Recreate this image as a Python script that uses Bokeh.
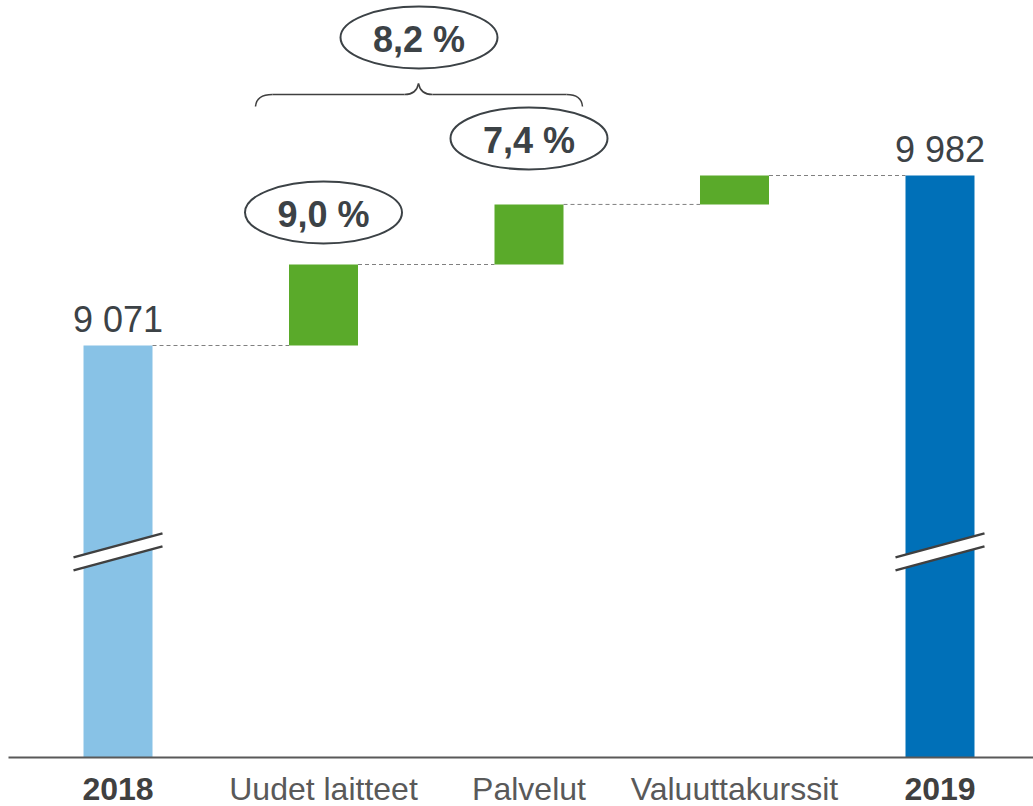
from bokeh.plotting import figure
from bokeh.models import Range1d
from bokeh.embed import file_html
from bokeh.resources import INLINE
from bokeh.core.properties import value

# ---------------- data ----------------
categories = ["2018", "Uudet laitteet", "Palvelut", "Valuuttakurssit", "2019"]
start_total = 9071
end_total = 9982
changes = [434, 322, 155]          # Uudet laitteet, Palvelut, Valuuttakurssit
total_labels = ["9 071", "9 982"]
growth_labels = ["9,0 %", "7,4 %"]  # for Uudet laitteet, Palvelut
combined_label = "8,2 %"
bold_cats = ["2018", "2019"]

# ---------------- layout ----------------
W, H = 1033, 806
X0, X1 = -0.5718, 4.455
Y0, Y1 = 6600.6, 10919.8
BASE = 6863.0          # axis break baseline (bars drawn from here)
KX = (X1 - X0) / W      # data units per px
KY = (Y1 - Y0) / H
BW = 69 * KX            # bar width

FONT = "Liberation Sans"
TXT = "#3C4246"

p = figure(width=W, height=H, x_range=Range1d(X0, X1), y_range=Range1d(Y0, Y1),
           output_backend="svg", toolbar_location=None, min_border=0,
           background_fill_color="white", border_fill_color="white")
p.outline_line_color = None
p.grid.visible = False
p.xaxis.visible = False
p.yaxis.visible = False


def px2x(px):   # screen px -> data x
    return px * KX + X0


def px2y(py):   # screen px -> data y
    return Y1 - py * KY


# totals bars
p.vbar(x=[0, 4], top=[start_total, end_total], bottom=BASE, width=BW,
       color=["#88C2E6", "#0070B8"], line_color=None)

# change bars
cum = [start_total]
for c in changes:
    cum.append(cum[-1] + c)
p.vbar(x=[1, 2, 3], bottom=cum[:-1], top=cum[1:], width=BW,
       color="#5AAA2A", line_color=None)

# dashed connectors
levels = cum
p.segment(x0=[i + BW / 2 for i in range(4)], x1=[i + 1 - BW / 2 for i in range(4)],
          y0=levels, y1=levels, line_color="#808080", line_width=1,
          line_dash="4 3")

# axis break marks
C = 7965.0
ext = BW / 2 + 10 * KX
for xc in [0, 4]:
    xl, xr = xc - ext, xc + ext
    p.patch(x=[xl, xr, xr, xl], y=[C - 5.5 * KY, C + 18.5 * KY, C + 5.5 * KY, C - 18.5 * KY],
            fill_color="white", line_color=None)
    p.segment(x0=[xl, xl], y0=[C - 5.5 * KY, C - 18.5 * KY],
              x1=[xr, xr], y1=[C + 18.5 * KY, C + 5.5 * KY],
              line_color="#404040", line_width=2.5)

# baseline axis line
p.segment(x0=[px2x(8)], x1=[X1], y0=[BASE], y1=[BASE], line_color="#595959", line_width=2)

# category labels
for i, cat in enumerate(categories):
    bold = cat in bold_cats
    p.text(x=[i], y=[BASE], text=[cat], y_offset=31, text_align="center",
           text_baseline="middle", text_font=value(FONT), text_font_size="32px",
           text_font_style="bold" if bold else "normal",
           text_color="#404040" if bold else "#595959")

# total value labels
p.text(x=[0, 4], y=[start_total, end_total], text=total_labels, y_offset=-26.5,
       text_align="center", text_baseline="middle", text_font=value(FONT),
       text_font_size="36px", text_color=TXT)

# ellipses with growth labels
ex = [1, 2, px2x(418.5)]
ey = [cum[1] + 52 * KY, cum[2] + 66 * KY, px2y(37)]
etxt = growth_labels + [combined_label]
p.ellipse(x=ex, y=ey, width=157, height=62, width_units="screen", height_units="screen",
          fill_color="white", line_color=TXT, line_width=2)
p.text(x=ex, y=ey, text=etxt, y_offset=2, text_align="center",
       text_baseline="middle", text_font=value(FONT), text_font_size="36px",
       text_font_style="bold", text_color=TXT)

# curly bracket
BC = "#404040"
p.quadratic(x0=[px2x(255)], y0=[px2y(106)], x1=[px2x(272)], y1=[px2y(94)],
            cx=[px2x(256)], cy=[px2y(94)], line_color=BC, line_width=1.5)
p.segment(x0=[px2x(272), px2x(432)], y0=[px2y(94)] * 2,
          x1=[px2x(404), px2x(566)], y1=[px2y(94)] * 2, line_color=BC, line_width=1.5)
p.quadratic(x0=[px2x(404), px2x(418)], y0=[px2y(94), px2y(83)],
            x1=[px2x(418), px2x(432)], y1=[px2y(83), px2y(94)],
            cx=[px2x(416), px2x(420)], cy=[px2y(94), px2y(94)], line_color=BC, line_width=1.5)
p.quadratic(x0=[px2x(566)], y0=[px2y(94)], x1=[px2x(582)], y1=[px2y(106)],
            cx=[px2x(581)], cy=[px2y(94)], line_color=BC, line_width=1.5)

open("out.html", "w").write(file_html(p, INLINE))
